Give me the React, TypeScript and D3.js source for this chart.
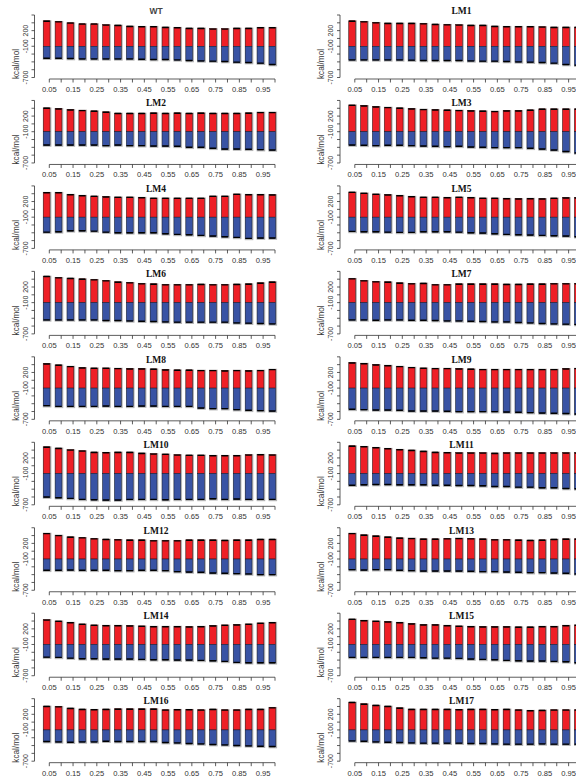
import * as d3 from "d3"

// mixing fractions on the x axis, one bar each
const fractions = [0.05, 0.1, 0.15, 0.2, 0.25, 0.3, 0.35, 0.4, 0.45, 0.5, 0.55, 0.6, 0.65, 0.7, 0.75, 0.8, 0.85, 0.9, 0.95, 1.0]
const xLabels = ["0.05", "0.15", "0.25", "0.35", "0.45", "0.55", "0.65", "0.75", "0.85", "0.95"]
const yTicks = [-700, -550, -400, -250, -100, 50, 200, 350, 500]
const yLabels = [-700, -100, 200]
const baseline = -100

const panelNames = ["WT", "LM1", "LM2", "LM3", "LM4", "LM5", "LM6", "LM7", "LM8", "LM9",
  "LM10", "LM11", "LM12", "LM13", "LM14", "LM15", "LM16", "LM17"]

// red = upper segment (kcal/mol above baseline), blue = lower segment
const wtRed = [489, 476, 451, 432, 432, 413, 406, 387, 381, 381, 368, 362, 349, 349, 337, 337, 349, 349, 362, 362]
const wtBlue = [235, 235, 241, 248, 248, 248, 248, 248, 254, 260, 260, 267, 279, 286, 292, 298, 311, 318, 330, 356]
const lm1Red = [489, 476, 457, 445, 445, 445, 438, 425, 419, 413, 406, 406, 387, 381, 381, 381, 375, 368, 368, 368]
const lm1Blue = [267, 267, 267, 267, 267, 273, 279, 279, 279, 279, 286, 292, 292, 298, 305, 311, 318, 330, 356, 368]
const lm2Red = [457, 445, 425, 413, 400, 381, 356, 356, 356, 362, 356, 362, 356, 362, 356, 356, 356, 362, 375, 375]
const lm2Blue = [260, 260, 260, 260, 260, 273, 260, 273, 273, 279, 279, 286, 305, 305, 324, 337, 337, 343, 349, 356]
const lm3Red = [514, 502, 483, 470, 457, 445, 432, 425, 419, 413, 406, 400, 394, 406, 406, 419, 438, 438, 438, 438]
const lm3Blue = [260, 267, 273, 267, 267, 273, 279, 286, 292, 286, 298, 305, 311, 311, 311, 324, 337, 356, 387, 413]
const lm4Red = [476, 476, 438, 419, 406, 394, 387, 387, 381, 368, 368, 368, 368, 368, 406, 406, 445, 438, 438, 432]
const lm4Blue = [292, 286, 267, 267, 273, 292, 305, 305, 305, 305, 324, 337, 343, 356, 368, 381, 394, 413, 406, 406]
const lm5Red = [483, 464, 445, 432, 419, 400, 387, 387, 381, 387, 381, 368, 368, 362, 356, 362, 356, 368, 375, 375]
const lm5Blue = [279, 286, 286, 292, 298, 298, 286, 286, 286, 292, 305, 311, 324, 337, 343, 349, 356, 362, 368, 381]
const lm6Red = [508, 483, 470, 457, 445, 425, 400, 387, 368, 362, 349, 349, 349, 356, 349, 349, 356, 362, 381, 400]
const lm6Blue = [337, 337, 337, 337, 337, 349, 349, 356, 362, 368, 375, 381, 381, 381, 381, 381, 394, 400, 406, 413]
const lm7Red = [464, 425, 406, 400, 381, 368, 375, 349, 349, 362, 362, 362, 362, 356, 356, 362, 362, 368, 368, 368]
const lm7Blue = [337, 337, 343, 337, 337, 343, 343, 349, 356, 356, 362, 368, 375, 375, 387, 394, 406, 413, 419, 425]
const lm8Red = [470, 445, 419, 394, 387, 387, 381, 375, 375, 368, 356, 349, 349, 343, 343, 337, 343, 337, 343, 362]
const lm8Blue = [343, 356, 356, 356, 356, 349, 356, 356, 349, 349, 356, 356, 356, 387, 400, 400, 419, 432, 438, 445]
const lm9Red = [489, 476, 451, 438, 419, 400, 387, 381, 381, 375, 368, 362, 362, 362, 362, 362, 362, 362, 375, 381]
const lm9Blue = [413, 419, 425, 425, 432, 445, 445, 445, 451, 457, 457, 457, 457, 464, 470, 476, 483, 489, 495, 502]
const lm10Red = [514, 489, 457, 438, 413, 406, 413, 413, 394, 381, 375, 362, 356, 356, 349, 349, 349, 362, 368, 362]
const lm10Blue = [457, 470, 483, 502, 508, 514, 514, 502, 502, 502, 508, 502, 502, 502, 489, 502, 495, 502, 502, 502]
const lm11Red = [533, 521, 502, 483, 464, 451, 432, 413, 406, 400, 400, 400, 394, 400, 400, 400, 400, 400, 400, 400]
const lm11Blue = [229, 222, 216, 216, 222, 222, 222, 229, 229, 235, 235, 241, 254, 254, 267, 267, 279, 279, 292, 298]
const lm12Red = [495, 457, 425, 413, 394, 381, 375, 368, 368, 356, 356, 356, 368, 368, 368, 362, 368, 368, 381, 381]
const lm12Blue = [222, 222, 216, 222, 222, 222, 229, 229, 222, 222, 229, 248, 254, 260, 273, 279, 286, 292, 305, 305]
const lm13Red = [495, 464, 445, 425, 406, 400, 387, 387, 394, 400, 394, 387, 375, 375, 368, 362, 368, 381, 387, 387]
const lm13Blue = [210, 216, 210, 210, 222, 229, 235, 235, 235, 235, 241, 248, 248, 254, 260, 267, 267, 273, 279, 292]
const lm14Red = [476, 451, 425, 394, 375, 368, 368, 362, 356, 349, 349, 349, 343, 349, 362, 375, 381, 394, 413, 425]
const lm14Blue = [248, 254, 267, 279, 279, 286, 286, 286, 292, 298, 298, 305, 305, 311, 318, 330, 349, 356, 356, 356]
const lm15Red = [489, 464, 451, 438, 425, 400, 381, 381, 368, 356, 349, 343, 343, 343, 337, 337, 349, 349, 368, 375]
const lm15Blue = [254, 254, 254, 254, 254, 254, 260, 267, 267, 273, 286, 292, 298, 311, 318, 324, 324, 330, 337, 356]
const lm16Red = [457, 451, 419, 400, 394, 400, 406, 406, 406, 406, 387, 394, 394, 387, 400, 387, 387, 400, 400, 432]
const lm16Blue = [229, 235, 241, 235, 235, 222, 229, 229, 229, 229, 248, 254, 267, 273, 286, 292, 305, 311, 318, 324]
const lm17Red = [533, 502, 476, 457, 425, 400, 400, 400, 400, 394, 400, 400, 394, 400, 387, 375, 381, 387, 387, 387]
const lm17Blue = [216, 222, 235, 241, 248, 254, 260, 260, 260, 260, 267, 267, 273, 279, 279, 279, 273, 279, 279, 279]

const redSeries = [wtRed, lm1Red, lm2Red, lm3Red, lm4Red, lm5Red, lm6Red, lm7Red, lm8Red, lm9Red,
  lm10Red, lm11Red, lm12Red, lm13Red, lm14Red, lm15Red, lm16Red, lm17Red]
const blueSeries = [wtBlue, lm1Blue, lm2Blue, lm3Blue, lm4Blue, lm5Blue, lm6Blue, lm7Blue, lm8Blue, lm9Blue,
  lm10Blue, lm11Blue, lm12Blue, lm13Blue, lm14Blue, lm15Blue, lm16Blue, lm17Blue]

const RED = "#ee1f26"
const BLUE = "#3953a4"
const AXIS = "#333"
const sans = "'Liberation Sans', Arial, sans-serif"
const serif = "'Liberation Serif', 'Times New Roman', serif"

interface PanelProps {
  name: string
  red: number[]
  blue: number[]
  row: number
  col: number
}

function Panel({ name, red, blue, row, col }: PanelProps) {
  const ox = col === 0 ? 0 : 305.5
  const axisY = 79 + row * 85.46
  const x = d3.scaleLinear().domain([0.05, 1]).range([49.3, 275])
  const y = d3.scaleLinear().domain([-700, 500]).range([axisY - 1.5, axisY - 64])
  const barW = 6.7
  const yAxisX = 34.5

  const titleY = row === 0 ? 10.7 : axisY - 61.5
  const isWT = name === "WT"

  return (
    <g transform={`translate(${ox},0)`}>
      {/* bars */}
      {fractions.map((f, i) => {
        const left = x(f) - 6
        const top = y(baseline + red[i])
        const mid = y(baseline)
        const bot = y(baseline - blue[i])
        return (
          <g key={i}>
            <rect x={left - 0.5} y={top - 0.5} width={barW + 1.9} height={bot - top + 2} fill="#b3b3b3" />
            <rect x={left} y={top} width={barW} height={mid - top} fill={RED} stroke="#3a1010" strokeWidth={0.5} />
            <rect x={left} y={mid} width={barW} height={bot - mid} fill={BLUE} stroke="#111a33" strokeWidth={0.5} />
            <line x1={left + 0.7} x2={left + barW - 0.7} y1={top + 0.4} y2={top + 0.4} stroke="#000" strokeWidth={1.4} strokeLinecap="round" />
            <line x1={left + 0.7} x2={left + barW - 0.7} y1={bot - 0.3} y2={bot - 0.3} stroke="#000" strokeWidth={1.4} strokeLinecap="round" />
          </g>
        )
      })}

      {/* x axis */}
      <line x1={x(0.05)} x2={x(1)} y1={axisY} y2={axisY} stroke={AXIS} strokeWidth={0.8} />
      {fractions.map((f, i) => (
        <line key={i} x1={x(f)} x2={x(f)} y1={axisY} y2={axisY + 3.5} stroke={AXIS} strokeWidth={0.8} />
      ))}
      {xLabels.map(l => (
        <text key={l} x={x(+l)} y={axisY + 13} textAnchor="middle" fontFamily={sans} fontSize={7.6} fill={AXIS}>{l}</text>
      ))}

      {/* y axis */}
      <line x1={yAxisX} x2={yAxisX} y1={y(-700)} y2={y(500)} stroke={AXIS} strokeWidth={0.8} />
      {yTicks.map(t => (
        <line key={t} x1={yAxisX - 3} x2={yAxisX} y1={y(t)} y2={y(t)} stroke={AXIS} strokeWidth={0.8} />
      ))}
      {yLabels.map(t => (
        <text key={t} transform={`translate(${27.5},${y(t)}) rotate(-90)`} textAnchor="middle" fontFamily={sans} fontSize={7} fill={AXIS}>{t}</text>
      ))}
      <text transform={`translate(${18.5},${axisY - 15}) rotate(-90)`} textAnchor="middle" fontFamily={sans} fontSize={8.2} fill={AXIS}>kcal/mol</text>

      {/* title */}
      {isWT
        ? <text x={156} y={titleY + 3} textAnchor="middle" fontFamily={sans} fontWeight="bold" fontSize={8.5} fill="#444">{name}</text>
        : <text x={156} y={titleY + 3.3} textAnchor="middle" fontFamily={serif} fontWeight="bold" fontSize={9.5} fill="#111">{name}</text>}
    </g>
  )
}

export default function App() {
  return (
    <svg width={576} height={781} style={{ position: "absolute", left: 0, top: 0, background: "#fff" }}>
      {panelNames.map((name, k) => (
        <Panel key={name} name={name} red={redSeries[k]} blue={blueSeries[k]} row={Math.floor(k / 2)} col={k % 2} />
      ))}
    </svg>
  )
}
